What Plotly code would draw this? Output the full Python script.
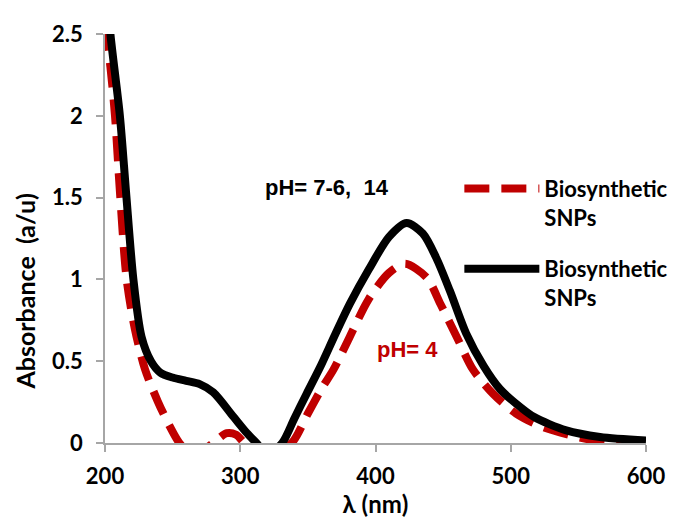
import plotly.graph_objects as go

# pH = 4 (red dashed)
wl_ph4 = [200, 204, 207.4, 211, 216, 222, 229.6, 239, 248, 255, 265, 272, 280, 290, 297, 303,
          312, 325, 338, 350, 360, 369, 381, 395, 410, 422, 438, 448, 460, 472, 487,
          504, 524, 553, 575, 600]
abs_ph4 = [2.55, 2.3, 2.0, 1.54, 1.0, 0.7, 0.45, 0.255, 0.1, 0.0, -0.08, -0.05, 0.0, 0.06, 0.05, 0.0,
           -0.05, -0.05, 0.0, 0.18, 0.33, 0.45, 0.65, 0.88, 1.04, 1.095, 1.01, 0.85, 0.65, 0.45, 0.30,
           0.18, 0.097, 0.03, 0.0, -0.01]

# pH = 7-6, 14 (black solid)
wl_ph7 = [200, 204, 211, 215.5, 221, 227, 234, 241, 250, 260, 270, 280, 295, 305, 312, 320,
          331, 340, 349, 360, 370, 381, 395, 410, 423, 435, 445, 455, 467, 480,
          492, 504, 517, 541, 566, 600]
abs_ph7 = [2.9, 2.5, 2.0, 1.54, 1.0, 0.65, 0.5, 0.43, 0.40, 0.38, 0.36, 0.31, 0.16, 0.06, 0.0, -0.07,
           0.0, 0.15, 0.30, 0.48, 0.66, 0.85, 1.06, 1.26, 1.345, 1.28, 1.13, 0.93, 0.67, 0.47,
           0.33, 0.24, 0.16, 0.077, 0.037, 0.015]

legend_names = ["Biosynthetic<br>SNPs", "Biosynthetic<br>SNPs"]
x_ticks = [200, 300, 400, 500, 600]
y_ticks = [0, 0.5, 1, 1.5, 2, 2.5]
y_tick_text = ["0", "0.5", "1", "1.5", "2", "2.5"]

FONT = "Lato"
RED = "#c00000"

fig = go.Figure()
fig.add_trace(go.Scatter(
    x=wl_ph4, y=abs_ph4, mode="lines", name=legend_names[0], legendgroup="a",
    line=dict(color=RED, width=8, dash="25px,12px", shape="spline", smoothing=0.8),
))
fig.add_trace(go.Scatter(
    x=wl_ph7, y=abs_ph7, mode="lines", name=legend_names[1], legendgroup="b",
    line=dict(color="black", width=8, shape="spline", smoothing=0.8),
))

fig.add_annotation(x=364.5, y=1.56, text="<b>pH= 7-6,  14</b>", showarrow=False,
                   font=dict(family="Liberation Sans", size=22, color="black"))
fig.add_annotation(x=424, y=0.57, text="<b>pH= 4</b>", showarrow=False,
                   font=dict(family="Liberation Sans", size=22, color=RED))
# y-axis title (placed like the original, below the axis centre)
fig.add_annotation(xref="paper", yref="paper", x=-0.148, y=0.37, xanchor="center", yanchor="middle",
                   text="<b>Absorbance  (a/u)</b>", textangle=-90, showarrow=False,
                   font=dict(family=FONT, size=25, color="black"))

axis_common = dict(
    showgrid=False, zeroline=False, showline=True, linecolor="#a6a6a6", linewidth=1.5,
    ticks="outside", ticklen=7, tickcolor="#a6a6a6", tickwidth=1.5,
    tickfont=dict(family=FONT, size=22, color="black", weight="bold"),
    ticklabeloverflow="allow",
)

fig.update_layout(
    width=689, height=530,
    margin=dict(l=97, r=51, t=14, b=95),
    paper_bgcolor="white", plot_bgcolor="white",
    showlegend=True,
    legend=dict(
        x=0.655, y=0.673, xanchor="left", yanchor="top",
        font=dict(family=FONT, size=22, color="black", weight="bold"),
        bgcolor="rgba(0,0,0,0)", valign="top", itemwidth=75,
        tracegroupgap=20,
    ),
    xaxis=dict(
        **axis_common, range=[200, 600], tickvals=x_ticks, ticklabelstandoff=6,
        title=dict(text="<b>λ (nm)</b>", font=dict(family=FONT, size=24, color="black"), standoff=6),
    ),
    yaxis=dict(
        **axis_common, range=[0, 2.5], tickvals=y_ticks, ticktext=y_tick_text, ticklabelstandoff=9,
    ),
)

fig.write_html("out.html")
